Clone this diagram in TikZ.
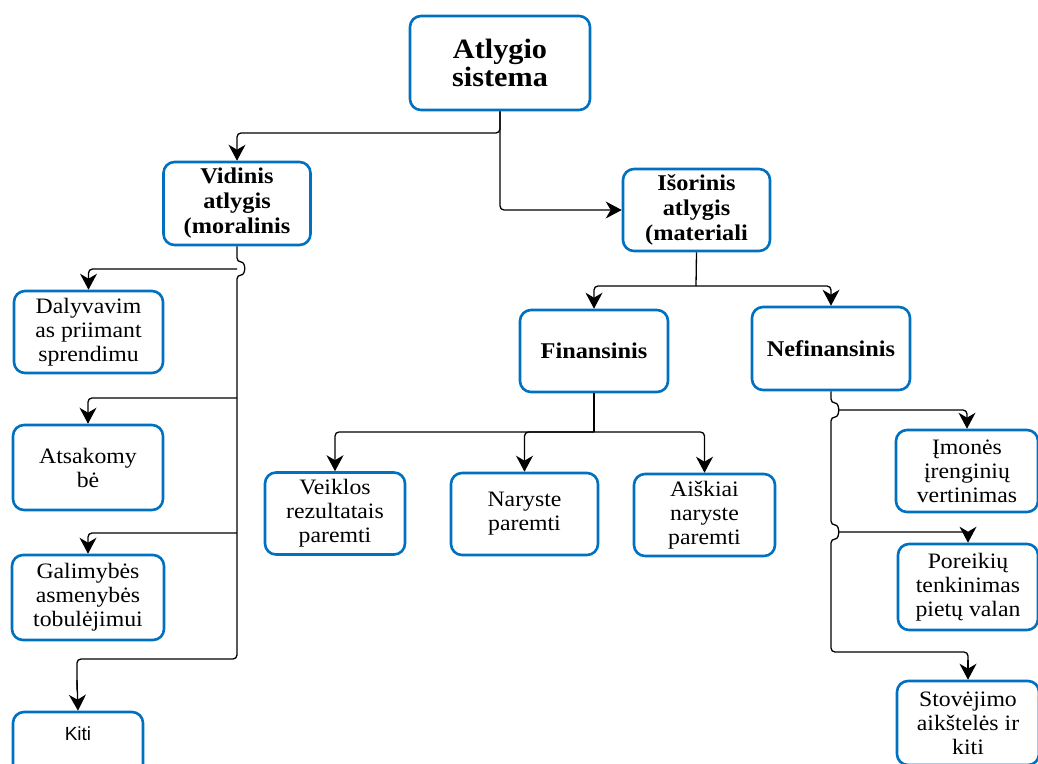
\documentclass[tikz,border=0pt]{standalone}
\usepackage{fontspec}
\setmainfont{Liberation Serif}[FakeStretch=1.08]
\setsansfont{Liberation Sans}
\usetikzlibrary{arrows.meta}
\definecolor{boxblue}{RGB}{0,112,192}
\tikzset{
  box/.style={draw=boxblue, line width=2.6pt, rounded corners=11pt, fill=white,
    align=center, inner sep=0pt, font=\fontsize{22}{24}\selectfont},
  boldbox/.style={box, font=\fontsize{22.5}{25}\selectfont\bfseries},
  tip/.tip={Stealth[length=16pt,width=17pt,inset=5pt]},
  conn/.style={draw=black, line width=1.3pt, rounded corners=4pt, -tip},
  plain/.style={draw=black, line width=1.3pt, rounded corners=4pt},
}
\begin{document}
\begin{tikzpicture}[x=1pt,y=-1pt]
\useasboundingbox (0,0) rectangle (1038,763);
% boxes
\node[boldbox, minimum width=180, minimum height=94, font=\fontsize{28}{28}\selectfont\bfseries] (atl) at (500,63) {Atlygio\\sistema};
\node[boldbox, minimum width=147, minimum height=83] (vid) at (237,203.5) {Vidinis\\atlygis\\(moralinis};
\node[boldbox, minimum width=147, minimum height=82] (isor) at (696.5,210) {Išorinis\\atlygis\\(materiali};
\node[box, minimum width=149, minimum height=82] (dal) at (88.5,332) {Dalyvavim\\as priimant\\sprendimu};
\node[box, minimum width=150, minimum height=85] (ats) at (88,467.5) {Atsakomy\\bė};
\node[box, minimum width=152, minimum height=85] (gal) at (88,597.5) {Galimybės\\asmenybės\\tobulėjimui};
\node[box, minimum width=130, minimum height=64, font=\sffamily\fontsize{19}{20}\selectfont] (kiti) at (78,744) {Kiti\\[1pt]};
\node[boldbox, minimum width=148, minimum height=82] (fin) at (594,351) {Finansinis};
\node[boldbox, minimum width=158, minimum height=83] (nef) at (831,348.5) {Nefinansinis};
\node[box, minimum width=140, minimum height=82] (vei) at (335,513.5) {Veiklos\\rezultatais\\paremti};
\node[box, minimum width=147, minimum height=82] (nar) at (524.5,514) {Naryste\\paremti};
\node[box, minimum width=141, minimum height=82] (ais) at (704.5,515) {Aiškiai\\naryste\\paremti};
\node[box, minimum width=142, minimum height=82] (imo) at (967,471) {Įmonės\\įrenginių\\vertinimas};
\node[box, minimum width=140, minimum height=86] (por) at (968,587) {Poreikių\\tenkinimas\\pietų valan};
\node[box, minimum width=142, minimum height=84] (sto) at (968,723) {Stovėjimo\\aikštelės ir\\kiti};
% top connectors
\draw[conn] (atl.south) -- (500,133) -| (vid.north);
\draw[conn] (atl.south) |- (isor.west);
% Vidinis trunk with hop
\draw[plain] (vid.south) -- (237,262) .. controls (246,262) and (246,275) .. (237,275) -- (237,659) -- (77,659) -- (77,690);
\draw[conn] (77,680) -- (kiti.north);
\coordinate (v1) at (237,269);
\coordinate (v2) at (237,398);
\coordinate (v3) at (237,533);
\draw[conn] (v1) -| (dal.north);
\draw[conn] (v2) -| (ats.north);
\draw[conn] (v3) -| (gal.north);
% Isorinis split
\coordinate (i1) at (696,286);
\draw[plain] (isor.south) -- (i1);
\draw[conn] (i1) -| (fin.north);
\draw[conn] (i1) -| (nef.north);
% Finansinis split
\coordinate (f1) at (594,432);
\draw[plain] (fin.south) -- (f1);
\draw[conn] (f1) -| (vei.north);
\draw[conn] (f1) -| (nar.north);
\draw[conn] (f1) -| (ais.north);
% Nefinansinis trunk with hops
\draw[plain] (nef.south) -- (831,403) .. controls (840,403) and (840,417) .. (831,417)
  -- (831,525) .. controls (840,525) and (840,539) .. (831,539) -- (831,652) -- (968,652) -- (968,665);
\draw[conn] (968,660) -- (sto.north);
\coordinate (n1) at (838,410);
\coordinate (n2) at (838,532);
\draw[conn] (n1) -| (imo.north);
\draw[conn] (n2) -| (por.north);
\end{tikzpicture}
\end{document}
